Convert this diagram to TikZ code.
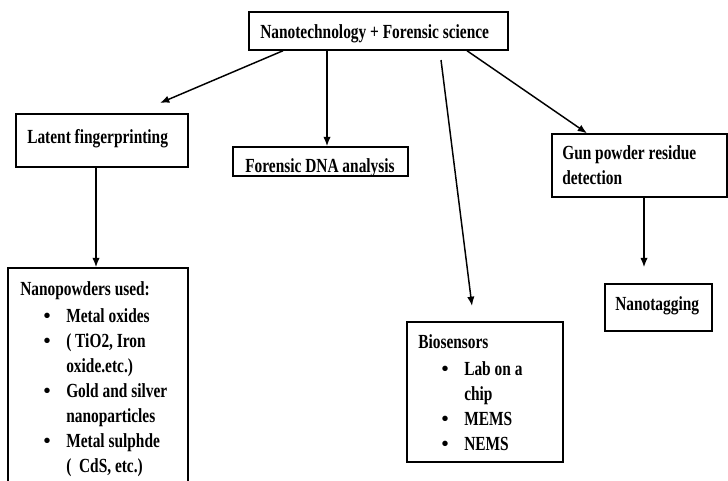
\documentclass[tikz,border=0pt]{standalone}
\usepackage{fontspec}
\setmainfont{Liberation Serif}[FakeStretch=0.77]
\newfontfamily\bulletfont{Liberation Serif}
\usetikzlibrary{arrows.meta,fit}
\newcommand\blt{\makebox[34.5pt][l]{\hspace{17.6pt}{\bulletfont\textbullet}}}
\tikzset{
  box/.style={draw=black, line width=1.1pt, fill=white, inner sep=0pt, rectangle},
  txt/.style={inner sep=0pt, anchor=base west, align=left,
    font=\fontsize{15}{18.75}\selectfont\bfseries, text=black},
  arr/.style={draw=black, line width=1.1pt, -{Latex[length=7pt,width=5.5pt]}}
}
\begin{document}
\begin{tikzpicture}[x=0.75pt,y=-0.75pt]
\useasboundingbox (0,0) rectangle (728,480);
% boxes
\node[box, fit={(249,12) (508,50)}] (top) {};
\node[box, fit={(16,114) (188,167)}] (latent) {};
\node[box, fit={(233,147) (408,176)}] (dna) {};
\node[box, fit={(552,134) (727,197)}] (gun) {};
\node[box, fit={(605,284) (712,331)}] (tag) {};
\node[box, fit={(8,268) (188,490)}] (nano) {};
\node[box, fit={(407,322) (563,462)}] (bio) {};
% texts
\node[txt] (ttop) at (260,38) {Nanotechnology + Forensic science};
\node[txt] (tlatent) at (27,143) {Latent fingerprinting};
\node[txt] (tdna) at (245,172) {Forensic DNA analysis};
\node[txt] (tgun) at (562,159) {\begin{tabular}[t]{@{}l@{}}Gun powder residue\\detection\end{tabular}};
\node[txt] (ttag) at (615,310) {Nanotagging};
\node[txt] (tnano) at (20,295) {\begin{tabular}[t]{@{}l@{}l@{}}
\multicolumn{2}{@{}l@{}}{Nanopowders used:}\\[1.5pt]
\blt & Metal oxides\\
\blt & ( TiO2, Iron\\
 & oxide.etc.)\\
\blt & Gold and silver\\
 & nanoparticles\\
\blt & Metal sulphde\\
 & (\ \ CdS, etc.)
\end{tabular}};
\node[txt] (tbio) at (418,348) {\begin{tabular}[t]{@{}l@{}l@{}}
\multicolumn{2}{@{}l@{}}{Biosensors}\\[1.5pt]
\blt & Lab on a\\
 & chip\\
\blt & MEMS\\
\blt & NEMS
\end{tabular}};
% connectors
\coordinate (latentTip) at (160,103);
\coordinate (bioStart) at (441,60);
\coordinate (bioTip) at (472,306);
\draw[arr] (top.south -| 283,0) -- (latentTip);
\draw[arr] (top.south -| 327,0) -- (dna.north -| 327,0);
\draw[arr] (bioStart) -- (bioTip);
\draw[arr] (top.south -| 467,0) -- (gun.north -| 587,0);
\draw[arr] (latent.south -| 96,0) -- (nano.north -| 96,0);
\draw[arr, shorten >=12pt] (gun.south -| 644,0) -- (tag.north -| 644,0);
\end{tikzpicture}
\end{document}
